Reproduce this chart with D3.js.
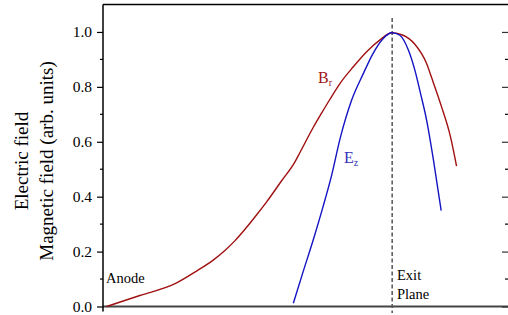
<!DOCTYPE html>
<html>
<head>
<meta charset="utf-8">
<script src="https://cdn.jsdelivr.net/npm/d3@7"></script>
<style>
  html, body { margin: 0; padding: 0; background: #fff; }
  svg { display: block; }
</style>
</head>
<body>
<svg id="chart" width="508" height="315"></svg>
<script>
// axial position (arb., 0 = left frame, 100 = right frame), field normalised to peak
const brX = [0.9, 9.1, 17.8, 23.1, 27.2, 30.1, 32.6, 34.7, 38.0, 40.4, 44.1, 47.4, 48.6, 51.9, 54.0, 56.0, 58.5, 61.8, 65.1, 68.4, 71.3, 74.1, 77.0, 79.9, 81.2, 83.6, 85.8, 87.3];
const brY = [0.0, 0.040, 0.083, 0.129, 0.169, 0.204, 0.240, 0.275, 0.335, 0.381, 0.458, 0.527, 0.560, 0.652, 0.705, 0.754, 0.812, 0.873, 0.928, 0.971, 0.997, 0.988, 0.955, 0.885, 0.831, 0.727, 0.618, 0.511];

const ezX = [47.0, 49.4, 51.9, 54.3, 56.4, 58.6, 61.4, 64.3, 66.7, 69.2, 71.3, 73.3, 75.4, 77.0, 78.5, 79.9, 81.6, 83.5];
const ezY = [0.012, 0.126, 0.242, 0.362, 0.475, 0.615, 0.752, 0.849, 0.922, 0.976, 0.997, 0.988, 0.934, 0.861, 0.770, 0.679, 0.533, 0.349];

const exitPlane = 71.4;
const yMajor = [0.0, 0.2, 0.4, 0.6, 0.8, 1.0];
const yMinor = [0.1, 0.3, 0.5, 0.7, 0.9];

const serif = "Liberation Serif";
const margin = { top: 4.5, right: 0, bottom: 8.5, left: 103 };
const W = 508, H = 315;

const svg = d3.select("#chart");

const x = d3.scaleLinear().domain([0, 100]).range([margin.left, W - margin.right]);
const y = d3.scaleLinear().domain([0, 1.1]).range([H - margin.bottom, margin.top]);

const x0 = x.range()[0], x1 = x.range()[1];
const y0 = y.range()[0], y1 = y.range()[1];

// top border
svg.append("line")
    .attr("x1", x0).attr("x2", x1).attr("y1", y1).attr("y2", y1)
    .attr("stroke", "#000").attr("stroke-width", 1.5);

// bottom axis line
svg.append("line")
    .attr("x1", x0).attr("x2", x1).attr("y1", y0).attr("y2", y0)
    .attr("stroke", "#444").attr("stroke-width", 1.8);

// left axis
const leftAxis = d3.axisLeft(y)
    .tickValues(yMajor)
    .tickFormat(d3.format(".1f"))
    .tickSize(6)
    .tickPadding(5);

const gl = svg.append("g")
    .attr("transform", `translate(${x0},0)`)
    .call(leftAxis);
gl.attr("font-family", serif).attr("font-size", 15.5);
gl.select(".domain").remove();
gl.selectAll(".tick line").attr("stroke", "#000").attr("stroke-width", 1.2);
gl.selectAll(".tick text").attr("fill", "#000");

svg.append("g")
    .attr("transform", `translate(${x0},0)`)
    .selectAll("line")
    .data(yMinor)
    .join("line")
    .attr("x1", -3).attr("x2", 0)
    .attr("y1", d => y(d)).attr("y2", d => y(d))
    .attr("stroke", "#000").attr("stroke-width", 1.2);

svg.append("line")
    .attr("x1", x0).attr("x2", x0).attr("y1", y1).attr("y2", y0 + 5)
    .attr("stroke", "#000").attr("stroke-width", 1.5);

// right axis ticks (inward)
const rightAxis = d3.axisLeft(y).tickValues(yMajor).tickSize(6).tickFormat("");
const gr = svg.append("g")
    .attr("transform", `translate(${x1},0)`)
    .call(rightAxis);
gr.select(".domain").remove();
gr.selectAll(".tick line").attr("stroke", "#333").attr("stroke-width", 1.2);
svg.append("g")
    .attr("transform", `translate(${x1},0)`)
    .selectAll("line")
    .data(yMinor)
    .join("line")
    .attr("x1", -3).attr("x2", 0)
    .attr("y1", d => y(d)).attr("y2", d => y(d))
    .attr("stroke", "#000").attr("stroke-width", 1.2);

// exit plane
svg.append("line")
    .attr("x1", x(exitPlane)).attr("x2", x(exitPlane))
    .attr("y1", 18).attr("y2", H - 2)
    .attr("stroke", "#555").attr("stroke-width", 1.5)
    .attr("stroke-dasharray", "4,2.5");

// curves
const line = d3.line().curve(d3.curveMonotoneX).x(d => x(d[0])).y(d => y(d[1]));

svg.append("path")
    .datum(d3.zip(brX, brY))
    .attr("fill", "none")
    .attr("stroke", "#a01010")
    .attr("stroke-width", 1.4)
    .attr("d", line);

svg.append("path")
    .datum(d3.zip(ezX, ezY))
    .attr("fill", "none")
    .attr("stroke", "#1414c4")
    .attr("stroke-width", 1.4)
    .attr("d", line);

// curve labels
const br = svg.append("text")
    .attr("x", 318).attr("y", 83)
    .attr("font-family", serif)
    .attr("font-size", 16).attr("fill", "#a01818");
br.append("tspan").text("B");
br.append("tspan").attr("font-size", 10).attr("dy", 3).text("r");

const ez = svg.append("text")
    .attr("x", 344).attr("y", 163)
    .attr("font-family", serif)
    .attr("font-size", 16).attr("fill", "#3030b8");
ez.append("tspan").text("E");
ez.append("tspan").attr("font-size", 10).attr("dy", 3).text("z");

// annotations
const note = (tx, ty, s) => svg.append("text")
    .attr("x", tx).attr("y", ty)
    .attr("font-family", serif)
    .attr("font-size", 14.5).attr("fill", "#000")
    .text(s);
note(106, 283, "Anode");
note(397, 280, "Exit");
note(397, 298.5, "Plane");

// y title
const yc = 161;
svg.append("text")
    .attr("transform", `translate(28,${yc}) rotate(-90)`)
    .attr("text-anchor", "middle")
    .attr("font-family", serif)
    .attr("font-size", 19).attr("fill", "#000")
    .text("Electric field");
svg.append("text")
    .attr("transform", `translate(52.5,${yc}) rotate(-90)`)
    .attr("text-anchor", "middle")
    .attr("font-family", serif)
    .attr("font-size", 19).attr("fill", "#000")
    .text("Magnetic field (arb. units)");
</script>
</body>
</html>
